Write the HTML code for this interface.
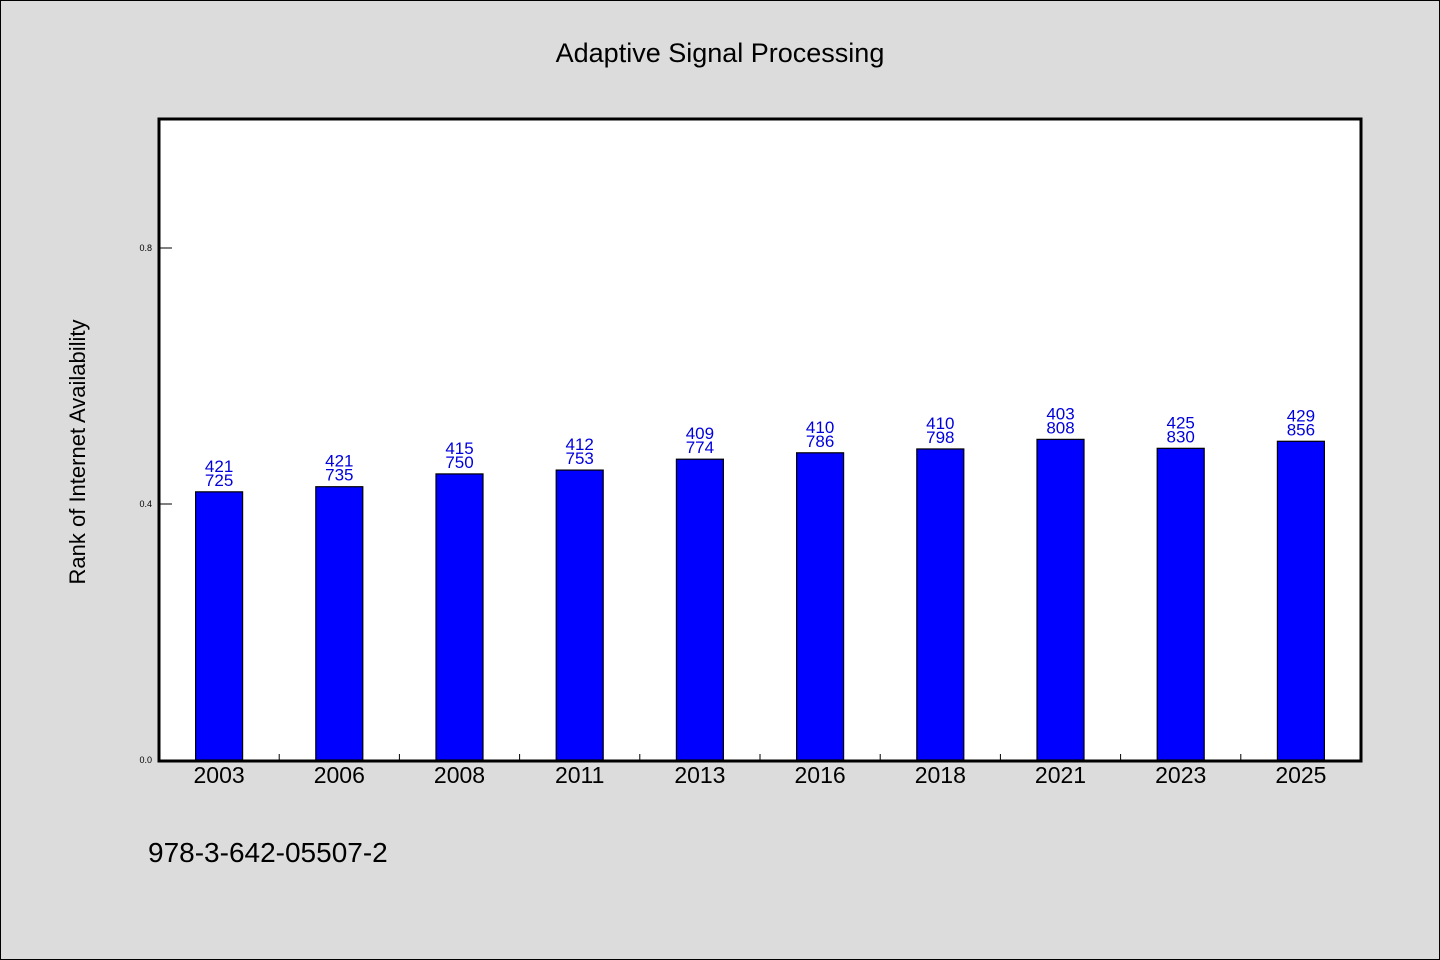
<!DOCTYPE html>
<html><head><meta charset="utf-8"><style>
html,body{margin:0;padding:0;background:#dcdcdc;}
svg{display:block;font-family:"WenQuanYi Zen Hei","Liberation Sans",sans-serif;}
</style></head><body>
<svg id="chart" width="1440" height="960" xmlns="http://www.w3.org/2000/svg">
<rect x="0.5" y="0.5" width="1439" height="959" fill="#dcdcdc" stroke="#000" stroke-width="1"/>
<text x="720" y="62" text-anchor="middle" font-size="27" fill="#000">Adaptive Signal Processing</text>
<rect x="159" y="119" width="1202" height="642" fill="#fff"/>
<g id="bars"></g>
<g id="axes"></g>
<rect x="159" y="119" width="1202" height="642" fill="none" stroke="#000" stroke-width="3"/>
<text transform="translate(85,452) rotate(-90)" text-anchor="middle" font-size="22" fill="#000">Rank of Internet Availability</text>
<text x="148" y="862" font-size="28" fill="#000">978-3-642-05507-2</text>
</svg>
<script>
const categories = ["2003","2006","2008","2011","2013","2016","2018","2021","2023","2025"];
const values = [0.419,0.427,0.447,0.453,0.470,0.480,0.486,0.501,0.487,0.498];
const labelTop = ["421","421","415","412","409","410","410","403","425","429"];
const labelBottom = ["725","735","750","753","774","786","798","808","830","856"];
const yTicks = [0.0,0.4,0.8];
const yTickLabels = ["0.0","0.4","0.8"];

const NS="http://www.w3.org/2000/svg";
const X0=159,X1=1361,Y0=760,Y1=120;
const band=(X1-X0)/categories.length;
const xc=i=>X0+band*(i+0.5);
const y=v=>Y0-(v-0)/(1-0)*(Y0-Y1);
function mk(tag,attrs,parent){const e=document.createElementNS(NS,tag);for(const k in attrs)e.setAttribute(k,attrs[k]);parent.appendChild(e);return e;}
const bars=document.getElementById('bars');
const axes=document.getElementById('axes');
categories.forEach((c,i)=>{
  const r=mk('rect',{x:xc(i)-23.5,y:y(values[i]),width:47,height:Y0-y(values[i]),fill:'#0000ff',stroke:'#000','stroke-width':1.2},bars);
  
  
  const t1=mk('text',{x:xc(i),y:y(values[i])-20,'text-anchor':'middle','font-size':17,fill:'#0000dd'},bars);
  t1.textContent=labelTop[i];
  
  
  const t2=mk('text',{x:xc(i),y:y(values[i])-6,'text-anchor':'middle','font-size':17,fill:'#0000dd'},bars);
  t2.textContent=labelBottom[i];
  
  
  const xl=mk('text',{x:xc(i),y:783,'text-anchor':'middle','font-size':23,fill:'#000'},axes);
  xl.textContent=c;
  
  
  if(i>0){
    const tk=mk('line',{x1:X0+band*i,x2:X0+band*i,y1:Y0,y2:Y0-6,stroke:'#000','stroke-width':1},axes);
    
    
  }
});
yTicks.forEach((v,i)=>{
  const tk=mk('line',{x1:X0,x2:X0+13,y1:y(v),y2:y(v),stroke:'#000','stroke-width':1},axes);
  
  
  const t=mk('text',{x:152,y:y(v)+3,'text-anchor':'end','font-size':9,fill:'#000','font-family':'Liberation Sans, sans-serif'},axes);
  t.textContent=yTickLabels[i];
  
  
});
</script>
</body></html>
